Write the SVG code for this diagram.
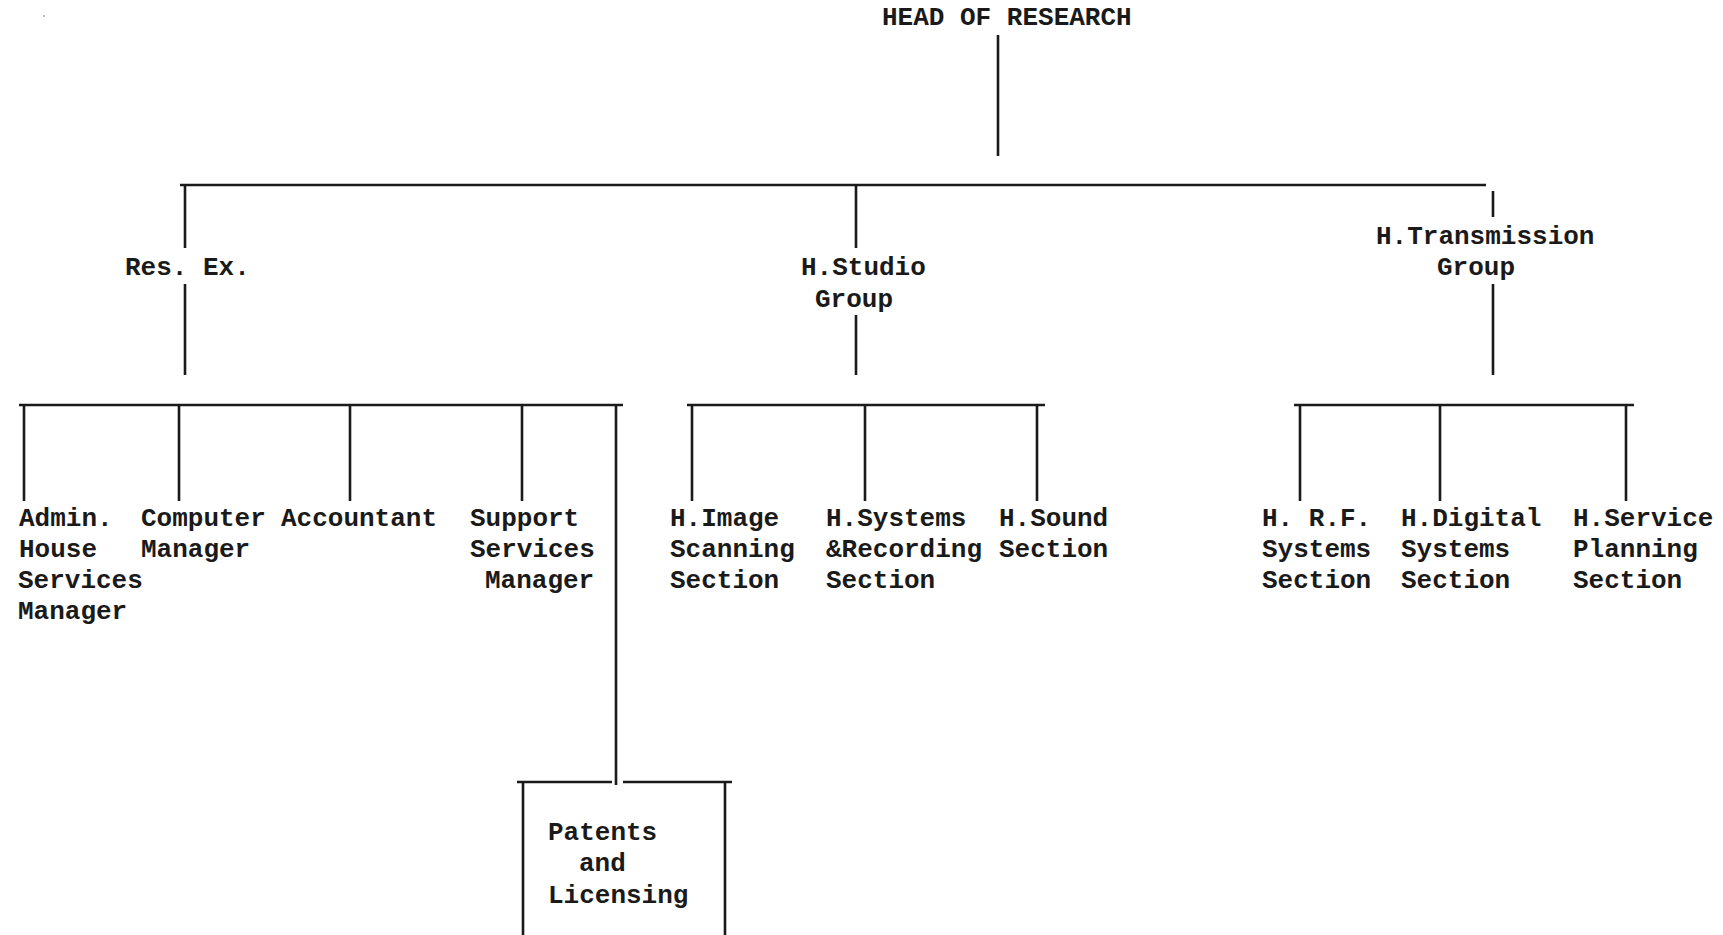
<svg xmlns="http://www.w3.org/2000/svg" width="1723" height="935" viewBox="0 0 1723 935">
<style>
text{font-family:"Liberation Mono","Courier New",monospace;font-size:26px;font-weight:bold;fill:#1a1a1a}
.c line{stroke:#1a1a1a;stroke-width:2.6;stroke-linecap:butt}
</style>
<rect width="1723" height="935" fill="#fff"/>
<circle cx="44" cy="16" r="0.8" fill="#666"/>
<g class="c" id="connectors">
<line x1="998" y1="35" x2="998" y2="156"/>
<line x1="180" y1="185" x2="1486" y2="185"/>
<line x1="185" y1="185" x2="185" y2="248"/>
<line x1="856" y1="185" x2="856" y2="248"/>
<line x1="1493" y1="191" x2="1493" y2="217"/>
<line x1="185" y1="284" x2="185" y2="375"/>
<line x1="856" y1="315" x2="856" y2="375"/>
<line x1="1493" y1="284" x2="1493" y2="375"/>
<line x1="19" y1="405" x2="623" y2="405"/>
<line x1="24" y1="405" x2="24" y2="501"/>
<line x1="179" y1="405" x2="179" y2="501"/>
<line x1="350" y1="405" x2="350" y2="501"/>
<line x1="522" y1="405" x2="522" y2="501"/>
<line x1="616" y1="405" x2="616" y2="785"/>
<line x1="687" y1="405" x2="1045" y2="405"/>
<line x1="692" y1="405" x2="692" y2="501"/>
<line x1="865" y1="405" x2="865" y2="501"/>
<line x1="1037" y1="405" x2="1037" y2="501"/>
<line x1="1294" y1="405" x2="1634" y2="405"/>
<line x1="1300" y1="405" x2="1300" y2="501"/>
<line x1="1440" y1="405" x2="1440" y2="501"/>
<line x1="1626" y1="405" x2="1626" y2="501"/>
</g>
<g id="head"><text x="882" y="25">HEAD OF RESEARCH</text></g>
<g id="resex"><text x="125" y="275">Res. Ex.</text></g>
<g id="studio"><text x="801" y="275">H.Studio</text><text x="815" y="307">Group</text></g>
<g id="transmission"><text x="1376" y="244">H.Transmission</text><text x="1437" y="275">Group</text></g>
<g id="admin"><text x="19" y="526">Admin.</text><text x="19" y="557">House</text><text x="18" y="588">Services</text><text x="18" y="619">Manager</text></g>
<g id="computer"><text x="141" y="526">Computer</text><text x="141" y="557">Manager</text></g>
<g id="accountant"><text x="281" y="526">Accountant</text></g>
<g id="support"><text x="470" y="526">Support</text><text x="470" y="557">Services</text><text x="485" y="588">Manager</text></g>
<g id="image"><text x="670" y="526">H.Image</text><text x="670" y="557">Scanning</text><text x="670" y="588">Section</text></g>
<g id="systems"><text x="826" y="526">H.Systems</text><text x="826" y="557">&amp;Recording</text><text x="826" y="588">Section</text></g>
<g id="sound"><text x="999" y="526">H.Sound</text><text x="999" y="557">Section</text></g>
<g id="rf"><text x="1262" y="526">H. R.F.</text><text x="1262" y="557">Systems</text><text x="1262" y="588">Section</text></g>
<g id="digital"><text x="1401" y="526">H.Digital</text><text x="1401" y="557">Systems</text><text x="1401" y="588">Section</text></g>
<g id="service"><text x="1573" y="526">H.Service</text><text x="1573" y="557">Planning</text><text x="1573" y="588">Section</text></g>
<g id="patents" class="c">
<line x1="517" y1="782" x2="612" y2="782"/>
<line x1="623" y1="782" x2="732" y2="782"/>
<line x1="523" y1="782" x2="523" y2="935"/>
<line x1="725" y1="782" x2="725" y2="935"/>
<text x="548" y="840">Patents</text><text x="579" y="871">and</text><text x="548" y="903">Licensing</text>
</g>
</svg>
